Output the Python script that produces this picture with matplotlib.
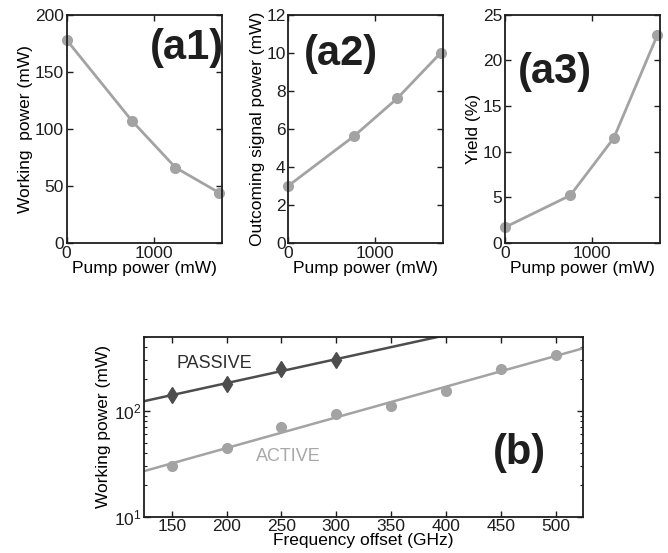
import matplotlib
matplotlib.use("Agg")
import matplotlib.pyplot as plt
import numpy as np

plt.rcParams["font.family"] = ["Liberation Sans", "DejaVu Sans"]
plt.rcParams["font.size"] = 12
plt.rcParams["mathtext.default"] = "regular"

# pump power sweep (top row)
pump_mw = [0, 750, 1250, 1750]
working_mw = [178, 107, 66, 44]
signal_mw = [3.0, 5.6, 7.6, 10.0]
yield_pct = [1.7, 5.2, 11.5, 22.8]

# working power vs frequency offset (bottom panel)
passive_ghz = [150, 200, 250, 300]
passive_mw = [141, 177, 247, 301]
active_ghz = [150, 200, 250, 300, 350, 400, 450, 500]
active_mw = [30, 44, 70, 92.5, 111, 154, 245, 335]

LIGHT = "#a3a3a3"
DARK = "#4d4d4d"
INK = "#1e1e1e"


def style_box(ax):
    for sp in ax.spines.values():
        sp.set_color(INK)
        sp.set_linewidth(1.3)
    ax.tick_params(which="both", direction="in", top=True, right=True,
                   colors=INK, labelsize=12.5, pad=2)
    ax.tick_params(which="major", length=4, width=1)
    ax.tick_params(which="minor", length=2.5, width=0.8)


fig = plt.figure(figsize=(6.68, 5.53), dpi=100)

top_panels = [
    (0.0998, working_mw, (0, 200), [0, 50, 100, 150, 200], "Working  power (mW)",
     "(a1)", (0.776, 0.857)),
    (0.4316, signal_mw, (0, 12), [0, 2, 4, 6, 8, 10, 12], "Outcoming signal power (mW)",
     "(a2)", (0.341, 0.829)),
    (0.756, yield_pct, (0, 25), [0, 5, 10, 15, 20, 25], "Yield (%)",
     "(a3)", (0.323, 0.751)),
]

for left, vals, ylim, yticks, ylabel, tag, tag_pos in top_panels:
    ax = fig.add_axes([left, 0.561, 0.232, 0.412])
    ax.plot(pump_mw, vals, "-o", color=LIGHT, lw=2, ms=7, mec=LIGHT, clip_on=False)
    ax.set_xlim(0, 1780)
    ax.set_ylim(*ylim)
    ax.set_xticks([0, 1000])
    ax.set_yticks(yticks)
    ax.set_xlabel("Pump power (mW)", fontsize=12.5, labelpad=0)
    ax.set_ylabel(ylabel, fontsize=12.5, labelpad=1)
    ax.text(tag_pos[0], tag_pos[1], tag, transform=ax.transAxes, ha="center",
            va="center", fontsize=30, fontweight="bold", color=INK)
    style_box(ax)

# bottom panel: log-scale working power with exponential fits
axb = fig.add_axes([0.216, 0.0657, 0.657, 0.3255])
axb.set_yscale("log")
xs = np.array([125, 525])
for fx, fy, col, mk, ms in [(passive_ghz, passive_mw, DARK, "d", 8),
                            (active_ghz, active_mw, LIGHT, "o", 7)]:
    k, b = np.polyfit(fx, np.log10(fy), 1)
    axb.plot(xs, 10 ** (k * xs + b), "-", color=col, lw=1.8)
    axb.plot(fx, fy, mk, color=col, ms=ms, mec=col)

axb.set_xlim(125, 525)
axb.set_ylim(10, 500)
axb.set_xticks([150, 200, 250, 300, 350, 400, 450, 500])
axb.set_yticks([10, 100])
axb.set_yticklabels([r"$10^1$", r"$10^2$"])
axb.set_xlabel("Frequency offset (GHz)", fontsize=12.5, labelpad=-1)
axb.set_ylabel("Working power (mW)", fontsize=12.5, labelpad=2)
axb.text(154, 282, "PASSIVE", color="#2e2e2e", fontsize=13, va="center")
axb.text(227, 37, "ACTIVE", color="#a8a8a8", fontsize=13, va="center")
axb.text(467, 40, "(b)", fontsize=30, fontweight="bold", color=INK,
         ha="center", va="center")
style_box(axb)

fig.savefig("out.png", dpi=100)
